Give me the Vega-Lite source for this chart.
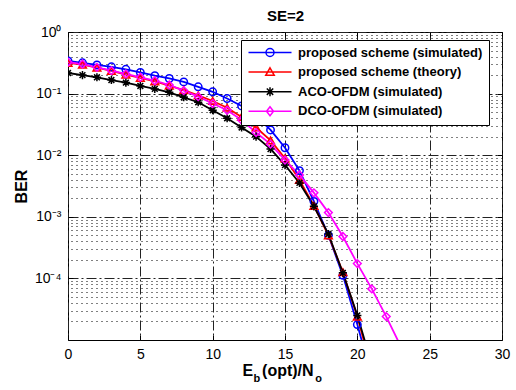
{
  "$schema": "https://vega.github.io/schema/vega-lite/v6.json",
  "width": 434,
  "height": 308,
  "autosize": "none",
  "padding": {"left": 68, "top": 32, "right": 14, "bottom": 50},
  "background": "white",
  "config": {
    "font": "Liberation Sans",
    "view": {"stroke": "#000", "strokeWidth": 1}
  },
  "data": {"values": [
    {"series": "proposed scheme (simulated)", "x": 0, "ber": 0.339},
    {"series": "proposed scheme (simulated)", "x": 1, "ber": 0.316},
    {"series": "proposed scheme (simulated)", "x": 2, "ber": 0.292},
    {"series": "proposed scheme (simulated)", "x": 3, "ber": 0.272},
    {"series": "proposed scheme (simulated)", "x": 4, "ber": 0.248},
    {"series": "proposed scheme (simulated)", "x": 5, "ber": 0.221},
    {"series": "proposed scheme (simulated)", "x": 6, "ber": 0.195},
    {"series": "proposed scheme (simulated)", "x": 7, "ber": 0.176},
    {"series": "proposed scheme (simulated)", "x": 8, "ber": 0.155},
    {"series": "proposed scheme (simulated)", "x": 9, "ber": 0.129},
    {"series": "proposed scheme (simulated)", "x": 10, "ber": 0.107},
    {"series": "proposed scheme (simulated)", "x": 11, "ber": 0.0832},
    {"series": "proposed scheme (simulated)", "x": 12, "ber": 0.0631},
    {"series": "proposed scheme (simulated)", "x": 13, "ber": 0.0427},
    {"series": "proposed scheme (simulated)", "x": 14, "ber": 0.0257},
    {"series": "proposed scheme (simulated)", "x": 15, "ber": 0.0132},
    {"series": "proposed scheme (simulated)", "x": 16, "ber": 0.00562},
    {"series": "proposed scheme (simulated)", "x": 17, "ber": 0.00178},
    {"series": "proposed scheme (simulated)", "x": 18, "ber": 0.000501},
    {"series": "proposed scheme (simulated)", "x": 19, "ber": 0.000112},
    {"series": "proposed scheme (simulated)", "x": 20, "ber": 0.0000178},
    {"series": "proposed scheme (simulated)", "x": 21, "ber": 0.0000025},
    {"series": "proposed scheme (theory)", "x": 0, "ber": 0.316},
    {"series": "proposed scheme (theory)", "x": 1, "ber": 0.295},
    {"series": "proposed scheme (theory)", "x": 2, "ber": 0.263},
    {"series": "proposed scheme (theory)", "x": 3, "ber": 0.234},
    {"series": "proposed scheme (theory)", "x": 4, "ber": 0.204},
    {"series": "proposed scheme (theory)", "x": 5, "ber": 0.180},
    {"series": "proposed scheme (theory)", "x": 6, "ber": 0.158},
    {"series": "proposed scheme (theory)", "x": 7, "ber": 0.135},
    {"series": "proposed scheme (theory)", "x": 8, "ber": 0.114},
    {"series": "proposed scheme (theory)", "x": 9, "ber": 0.0933},
    {"series": "proposed scheme (theory)", "x": 10, "ber": 0.0759},
    {"series": "proposed scheme (theory)", "x": 11, "ber": 0.0589},
    {"series": "proposed scheme (theory)", "x": 12, "ber": 0.0417},
    {"series": "proposed scheme (theory)", "x": 13, "ber": 0.0282},
    {"series": "proposed scheme (theory)", "x": 14, "ber": 0.0174},
    {"series": "proposed scheme (theory)", "x": 15, "ber": 0.00891},
    {"series": "proposed scheme (theory)", "x": 16, "ber": 0.00398},
    {"series": "proposed scheme (theory)", "x": 17, "ber": 0.00151},
    {"series": "proposed scheme (theory)", "x": 18, "ber": 0.000501},
    {"series": "proposed scheme (theory)", "x": 19, "ber": 0.000126},
    {"series": "proposed scheme (theory)", "x": 20, "ber": 0.000024},
    {"series": "proposed scheme (theory)", "x": 21, "ber": 0.0000032},
    {"series": "ACO-OFDM (simulated)", "x": 0, "ber": 0.216},
    {"series": "ACO-OFDM (simulated)", "x": 1, "ber": 0.200},
    {"series": "ACO-OFDM (simulated)", "x": 2, "ber": 0.184},
    {"series": "ACO-OFDM (simulated)", "x": 3, "ber": 0.166},
    {"series": "ACO-OFDM (simulated)", "x": 4, "ber": 0.151},
    {"series": "ACO-OFDM (simulated)", "x": 5, "ber": 0.133},
    {"series": "ACO-OFDM (simulated)", "x": 6, "ber": 0.119},
    {"series": "ACO-OFDM (simulated)", "x": 7, "ber": 0.105},
    {"series": "ACO-OFDM (simulated)", "x": 8, "ber": 0.0871},
    {"series": "ACO-OFDM (simulated)", "x": 9, "ber": 0.0724},
    {"series": "ACO-OFDM (simulated)", "x": 10, "ber": 0.0537},
    {"series": "ACO-OFDM (simulated)", "x": 11, "ber": 0.0398},
    {"series": "ACO-OFDM (simulated)", "x": 12, "ber": 0.0282},
    {"series": "ACO-OFDM (simulated)", "x": 13, "ber": 0.0200},
    {"series": "ACO-OFDM (simulated)", "x": 14, "ber": 0.0126},
    {"series": "ACO-OFDM (simulated)", "x": 15, "ber": 0.00692},
    {"series": "ACO-OFDM (simulated)", "x": 16, "ber": 0.00355},
    {"series": "ACO-OFDM (simulated)", "x": 17, "ber": 0.00148},
    {"series": "ACO-OFDM (simulated)", "x": 18, "ber": 0.000525},
    {"series": "ACO-OFDM (simulated)", "x": 19, "ber": 0.000123},
    {"series": "ACO-OFDM (simulated)", "x": 20, "ber": 0.0000251},
    {"series": "ACO-OFDM (simulated)", "x": 21, "ber": 0.000004},
    {"series": "DCO-OFDM (simulated)", "x": 0, "ber": 0.324},
    {"series": "DCO-OFDM (simulated)", "x": 1, "ber": 0.302},
    {"series": "DCO-OFDM (simulated)", "x": 2, "ber": 0.267},
    {"series": "DCO-OFDM (simulated)", "x": 3, "ber": 0.236},
    {"series": "DCO-OFDM (simulated)", "x": 4, "ber": 0.209},
    {"series": "DCO-OFDM (simulated)", "x": 5, "ber": 0.184},
    {"series": "DCO-OFDM (simulated)", "x": 6, "ber": 0.162},
    {"series": "DCO-OFDM (simulated)", "x": 7, "ber": 0.138},
    {"series": "DCO-OFDM (simulated)", "x": 8, "ber": 0.112},
    {"series": "DCO-OFDM (simulated)", "x": 9, "ber": 0.0891},
    {"series": "DCO-OFDM (simulated)", "x": 10, "ber": 0.0692},
    {"series": "DCO-OFDM (simulated)", "x": 11, "ber": 0.0537},
    {"series": "DCO-OFDM (simulated)", "x": 12, "ber": 0.0372},
    {"series": "DCO-OFDM (simulated)", "x": 13, "ber": 0.0234},
    {"series": "DCO-OFDM (simulated)", "x": 14, "ber": 0.0151},
    {"series": "DCO-OFDM (simulated)", "x": 15, "ber": 0.00832},
    {"series": "DCO-OFDM (simulated)", "x": 16, "ber": 0.00479},
    {"series": "DCO-OFDM (simulated)", "x": 17, "ber": 0.00245},
    {"series": "DCO-OFDM (simulated)", "x": 18, "ber": 0.00117},
    {"series": "DCO-OFDM (simulated)", "x": 19, "ber": 0.000479},
    {"series": "DCO-OFDM (simulated)", "x": 20, "ber": 0.000174},
    {"series": "DCO-OFDM (simulated)", "x": 21, "ber": 0.0000676},
    {"series": "DCO-OFDM (simulated)", "x": 22, "ber": 0.000024},
    {"series": "DCO-OFDM (simulated)", "x": 23, "ber": 0.0000079}
  ]},
  "layer": [
    {
      "mark": {"type": "line", "strokeWidth": 1.8, "clip": true},
      "encoding": {
        "x": {"field": "x", "type": "quantitative",
          "scale": {"domain": [0, 30], "nice": false, "zero": false},
          "axis": {"orient": "bottom", "values": [0, 5, 10, 15, 20, 25, 30], "grid": true, "gridDash": [10, 3, 2, 3], "gridColor": "#222", "gridOpacity": 1, "gridWidth": 1,
            "domain": false, "ticks": true, "tickSize": -5, "tickColor": "#000", "tickWidth": 1, "labelFontSize": 14, "labelColor": "#000", "labelPadding": 12, "labelFlush": false,
            "title": "E\u00a0\u00a0(opt)/N", "titleFontSize": 16, "titleFontWeight": "bold", "titleColor": "#000", "titleAlign": "left", "titleAnchor": null, "titleX": 174, "titleY": 35, "titleBaseline": "alphabetic"}},
        "y": {"field": "ber", "type": "quantitative",
          "scale": {"type": "log", "domain": [0.00001, 1], "nice": false},
          "axis": {"orient": "left", "values": [1, 0.1, 0.01, 0.001, 0.0001], "grid": true, "gridDash": [10, 3, 2, 3], "gridColor": "#222", "gridOpacity": 1, "gridWidth": 1,
            "domain": false, "ticks": true, "tickSize": -5, "tickColor": "#000", "tickWidth": 1, "labelFontSize": 14, "labelColor": "#000", "labelPadding": 12, "labelFlush": false,
            "labelExpr": "['10\u2070','10\u207b\u00b9','10\u207b\u00b2','10\u207b\u00b3','10\u207b\u2074','10\u207b\u2075'][round(-log(datum.value)/LN10)]",
            "title": "BER", "titleFontSize": 16, "titleFontWeight": "bold", "titleColor": "#000", "titleAlign": "center", "titleBaseline": "middle", "titleAnchor": null, "titleX": -47, "titleY": 154}},
        "color": {"field": "series", "type": "nominal",
          "scale": {"domain": ["proposed scheme (simulated)", "proposed scheme (theory)", "ACO-OFDM (simulated)", "DCO-OFDM (simulated)"], "range": ["#0000ff", "#ff0000", "#000000", "#ff00ff"]},
          "legend": {"orient": "none", "legendX": 173, "legendY": 8, "title": null, "padding": 6, "strokeColor": "#000", "fillColor": "#fff",
            "labelFontSize": 13, "labelFontWeight": "bold", "labelColor": "#000", "labelOffset": 38, "rowPadding": 4.6, "symbolSize": 100, "symbolStrokeWidth": 1.5,
            "labelLimit": 300,
            "encode": {"symbols": {"update": {
              "shape": {"signal": "datum.value === 'proposed scheme (simulated)' ? 'M-1,0H7.6M2.5,0A0.8,0.8 0 1 1 4.1,0A0.8,0.8 0 1 1 2.5,0' : datum.value === 'proposed scheme (theory)' ? 'M-1,0H7.6M3.3,-0.85L4.15,0.65L2.45,0.65Z' : datum.value === 'ACO-OFDM (simulated)' ? 'M-1,0H7.6M3.3,-0.9V0.9M2.66,-0.64L3.94,0.64M2.66,0.64L3.94,-0.64' : 'M-1,0H7.6M3.3,-0.9L4,0L3.3,0.9L2.6,0Z'"},
              "fill": {"value": "transparent"}
            }}}}}
      }
    },
    {
      "transform": [{"filter": {"field": "series", "equal": "proposed scheme (simulated)"}}],
      "mark": {"type": "point", "filled": false, "strokeWidth": 1.5, "size": 55, "clip": true, "opacity": 1, "shape": "circle", "color": "#0000ff"},
      "encoding": {
        "x": {"field": "x", "type": "quantitative",
          "axis": {"orient": "bottom", "grid": false, "domain": false, "ticks": false, "labels": false,
            "title": "b\u00a0\u00a0\u00a0\u00a0\u00a0\u00a0\u00a0\u00a0\u00a0\u00a0\u00a0\u00a0\u00a0\u00a0\u00a0\u00a0\u00a0\u00a0o", "titleFontSize": 11, "titleFontWeight": "bold", "titleColor": "#000", "titleAlign": "left", "titleAnchor": null, "titleX": 185, "titleY": 41, "titleBaseline": "alphabetic"}},
        "y": {"field": "ber", "type": "quantitative",
          "axis": {"orient": "right", "values": [0.00002, 0.00003, 0.00004, 0.00005, 0.00006, 0.00007, 0.00008, 0.00009, 0.0002, 0.0003, 0.0004, 0.0005, 0.0006, 0.0007, 0.0008, 0.0009, 0.002, 0.003, 0.004, 0.005, 0.006, 0.007, 0.008, 0.009, 0.02, 0.03, 0.04, 0.05, 0.06, 0.07, 0.08, 0.09, 0.2, 0.3, 0.4, 0.5, 0.6, 0.7, 0.8, 0.9],
            "grid": true, "gridDash": [1, 4], "gridColor": "#000", "gridOpacity": 1, "gridWidth": 1, "domain": false, "ticks": false, "labels": false, "title": null}}
      }
    },
    {
      "transform": [{"filter": {"field": "series", "equal": "proposed scheme (theory)"}}],
      "mark": {"type": "point", "filled": false, "strokeWidth": 1.5, "size": 60, "clip": true, "opacity": 1, "shape": "triangle-up", "color": "#ff0000"},
      "encoding": {
        "x": {"field": "x", "type": "quantitative",
          "axis": {"orient": "top", "values": [0, 5, 10, 15, 20, 25, 30], "grid": false, "domain": false, "labels": false, "ticks": true, "tickSize": -5, "tickColor": "#000", "tickWidth": 1,
            "title": "SE=2", "titleFontSize": 15, "titleFontWeight": "bold", "titleColor": "#000", "titleAlign": "center", "titleAnchor": null, "titleX": 217, "titleY": -12, "titleBaseline": "alphabetic"}},
        "y": {"field": "ber", "type": "quantitative",
          "axis": {"orient": "right", "values": [1, 0.1, 0.01, 0.001, 0.0001], "grid": false, "domain": false, "labels": false, "ticks": true, "tickSize": -5, "tickColor": "#000", "tickWidth": 1, "title": null}}
      }
    },
    {
      "transform": [{"filter": {"field": "series", "equal": "ACO-OFDM (simulated)"}}],
      "mark": {"type": "point", "filled": false, "strokeWidth": 1.5, "size": 55, "clip": true, "opacity": 1, "shape": "M0,-1.1V1.1M-1.1,0H1.1M-0.78,-0.78L0.78,0.78M-0.78,0.78L0.78,-0.78", "color": "#000000"},
      "encoding": {
        "x": {"field": "x", "type": "quantitative", "axis": null},
        "y": {"field": "ber", "type": "quantitative", "axis": null}
      }
    },
    {
      "transform": [{"filter": {"field": "series", "equal": "DCO-OFDM (simulated)"}}],
      "mark": {"type": "point", "filled": false, "strokeWidth": 1.5, "size": 60, "clip": true, "opacity": 1, "shape": "diamond", "color": "#ff00ff"},
      "encoding": {
        "x": {"field": "x", "type": "quantitative", "axis": null},
        "y": {"field": "ber", "type": "quantitative", "axis": null}
      }
    }
  ],
  "resolve": {"axis": {"x": "independent", "y": "independent"}}
}
